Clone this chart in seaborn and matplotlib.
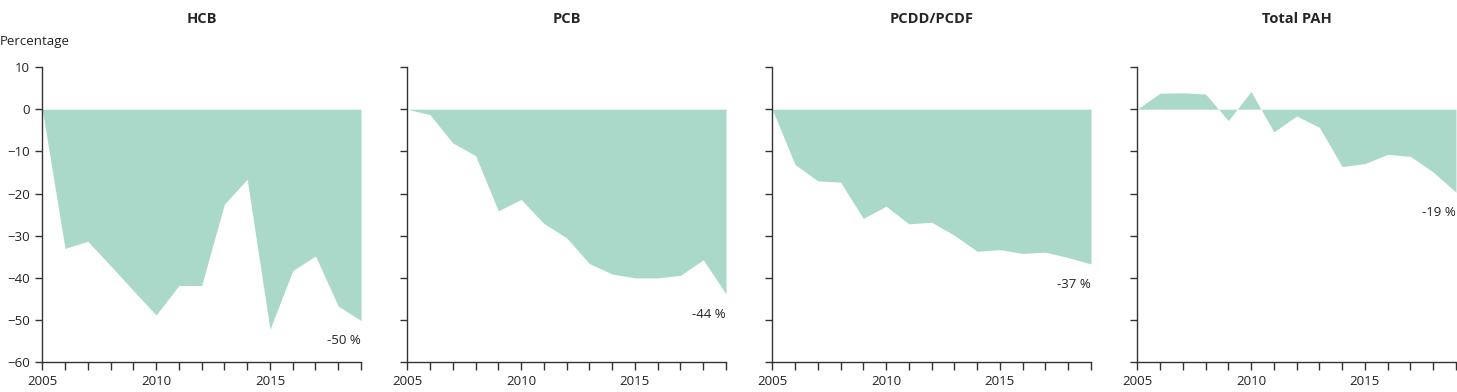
import numpy as np
import pandas as pd
import matplotlib
matplotlib.use("Agg")
import matplotlib.pyplot as plt
import seaborn as sns

years = list(range(2005, 2020))

hcb = [0, -33.0, -31.3, -37.1, -43.0, -48.8, -41.8, -41.8, -22.5, -16.6,
       -52.2, -38.3, -34.8, -46.7, -50.1]
pcb = [0, -1.3, -8.0, -11.0, -24.1, -21.4, -27.1, -30.5, -36.6, -39.1,
       -40.0, -40.0, -39.4, -35.7, -43.8]
pcdd = [0, -13.1, -17.0, -17.3, -25.9, -23.0, -27.2, -26.8, -29.9, -33.7,
        -33.3, -34.2, -33.9, -35.2, -36.7]
pah = [0, 3.8, 3.9, 3.6, -2.7, 4.2, -5.4, -1.6, -4.3, -13.6,
       -12.9, -10.7, -11.2, -14.9, -19.7]

titles = ["HCB", "PCB", "PCDD/PCDF", "Total PAH"]
end_labels = ["-50 %", "-44 %", "-37 %", "-19 %"]
series = [hcb, pcb, pcdd, pah]

fill_color = "#aad9c9"
axis_color = "#333333"

sns.set_style("ticks")
plt.rcParams["font.family"] = ["Open Sans", "DejaVu Sans"]

fig, axes = plt.subplots(1, 4, figsize=(14.57, 3.92), dpi=100, sharey=True)
fig.subplots_adjust(left=0.029, right=0.9993, top=0.829, bottom=0.076, wspace=0.145)

for ax, title, vals, lab in zip(axes, titles, series, end_labels):
    df = pd.DataFrame({"year": years, "value": vals})
    sns.lineplot(data=df, x="year", y="value", ax=ax, color=fill_color, linewidth=0)
    ax.fill_between(df["year"], 0, df["value"], color=fill_color, linewidth=0)
    ax.set_xlim(2005, 2019)
    ax.set_ylim(-60, 10)
    ax.set_xticks([2005, 2010, 2015])
    ax.set_xticks(years, minor=True)
    ax.set_yticks(range(-60, 11, 10))
    ax.set_xlabel("")
    ax.set_ylabel("")
    ax.set_title(title, fontsize=10.5, fontweight="bold", pad=32)
    for side in ["top", "right"]:
        ax.spines[side].set_visible(False)
    for side in ["left", "bottom"]:
        ax.spines[side].set_color(axis_color)
        ax.spines[side].set_linewidth(1)
    ax.tick_params(axis="both", which="both", color=axis_color, labelsize=9.5,
                   labelcolor="#222222", direction="out", width=1)
    ax.tick_params(axis="x", which="both", length=6, pad=3)
    ax.tick_params(axis="y", which="major", length=5, pad=4)
    ax.annotate(lab, xy=(years[-1], vals[-1]), xytext=(0, -14.5),
                textcoords="offset points", ha="right", va="center",
                fontsize=9.5, color="#222222")

for ax in axes[1:]:
    ax.tick_params(axis="y", labelleft=False)

fig.text(0.0, 0.895, "Percentage", fontsize=9.5, color="#222222", va="center")

fig.savefig("out.png", dpi=100)
